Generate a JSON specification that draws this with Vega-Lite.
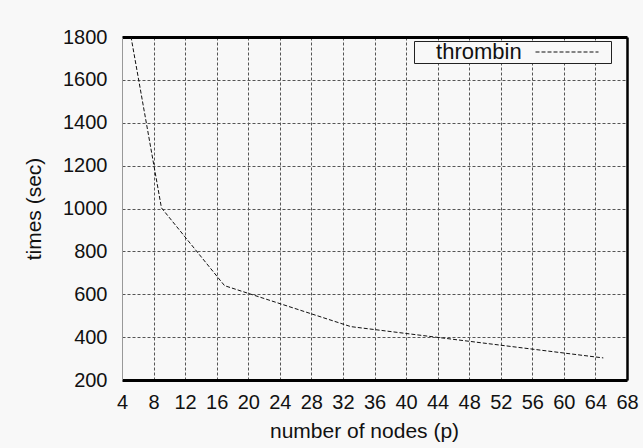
{
  "$schema": "https://vega.github.io/schema/vega-lite/v6.json",
  "width": 505,
  "height": 343,
  "autosize": {"type": "none"},
  "padding": {"left": 122, "top": 37, "right": 16, "bottom": 68},
  "background": "#f8f8f8",
  "config": {
    "view": {"stroke": null},
    "font": "Liberation Sans",
    "axis": {
      "labelFont": "Liberation Sans",
      "titleFont": "Liberation Sans",
      "labelFontSize": 20,
      "titleFontSize": 21,
      "titleFontWeight": "normal",
      "labelColor": "#111",
      "titleColor": "#111",
      "labelOverlap": false,
      "labelFlush": false,
      "ticks": false,
      "gridColor": "#555",
      "gridDash": [3, 2],
      "gridWidth": 1,
      "gridOpacity": 1
    }
  },
  "data": {
    "values": [
      {"series": "thrombin", "p": 5, "time": 1830},
      {"series": "thrombin", "p": 9, "time": 1003},
      {"series": "thrombin", "p": 17, "time": 640},
      {"series": "thrombin", "p": 33, "time": 449},
      {"series": "thrombin", "p": 65, "time": 303}
    ]
  },
  "layer": [
    {
      "mark": {"type": "line", "clip": true, "strokeWidth": 1, "strokeDash": [4, 2]},
      "encoding": {
        "x": {
          "field": "p",
          "type": "quantitative",
          "scale": {"domain": [4, 68], "nice": false, "zero": false},
          "axis": {
            "orient": "bottom",
            "values": [4, 8, 12, 16, 20, 24, 28, 32, 36, 40, 44, 48, 52, 56, 60, 64, 68],
            "format": "d",
            "title": "number of nodes (p)",
            "domainColor": "#000",
            "domainWidth": 3,
            "labelPadding": 12,
            "titlePadding": 8,
            "titleX": 242
          }
        },
        "y": {
          "field": "time",
          "type": "quantitative",
          "scale": {"domain": [200, 1800], "nice": false, "zero": false},
          "axis": {
            "orient": "left",
            "values": [200, 400, 600, 800, 1000, 1200, 1400, 1600, 1800],
            "format": "d",
            "title": "times (sec)",
            "domainColor": "#999",
            "domainWidth": 1,
            "labelPadding": 15,
            "titlePadding": 18
          }
        },
        "color": {
          "field": "series",
          "type": "nominal",
          "scale": {"range": ["#111"]},
          "legend": {
            "orient": "none",
            "legendX": 292,
            "legendY": 4,
            "title": "\u2800\u00a0thrombin",
            "titleOrient": "left",
            "titleFont": "Liberation Sans",
            "titleFontSize": 22,
            "titleFontWeight": "normal",
            "titleColor": "#111",
            "titlePadding": 13,
            "titleAnchor": "middle",
            "titleBaseline": "middle",
            "labelExpr": "'\u2800'",
            "labelFont": "Liberation Sans",
            "labelFontSize": 13,
            "labelOffset": 2,
            "clipHeight": 22,
            "symbolType": "stroke",
            "symbolSize": 3969,
            "symbolStrokeWidth": 1,
            "symbolDash": [4, 2],
            "symbolStrokeColor": "#111",
            "strokeColor": "#222",
            "fillColor": "#f8f8f8",
            "padding": 0
          }
        }
      }
    },
    {
      "mark": {"type": "line", "opacity": 0},
      "encoding": {
        "x": {
          "field": "p",
          "type": "quantitative",
          "axis": {"orient": "top", "labels": false, "grid": false, "title": null, "domainColor": "#000", "domainWidth": 3}
        },
        "y": {
          "field": "time",
          "type": "quantitative",
          "axis": {"orient": "right", "labels": false, "grid": false, "title": null, "domainColor": "#000", "domainWidth": 2.5}
        }
      }
    }
  ],
  "resolve": {"axis": {"x": "independent", "y": "independent"}}
}
